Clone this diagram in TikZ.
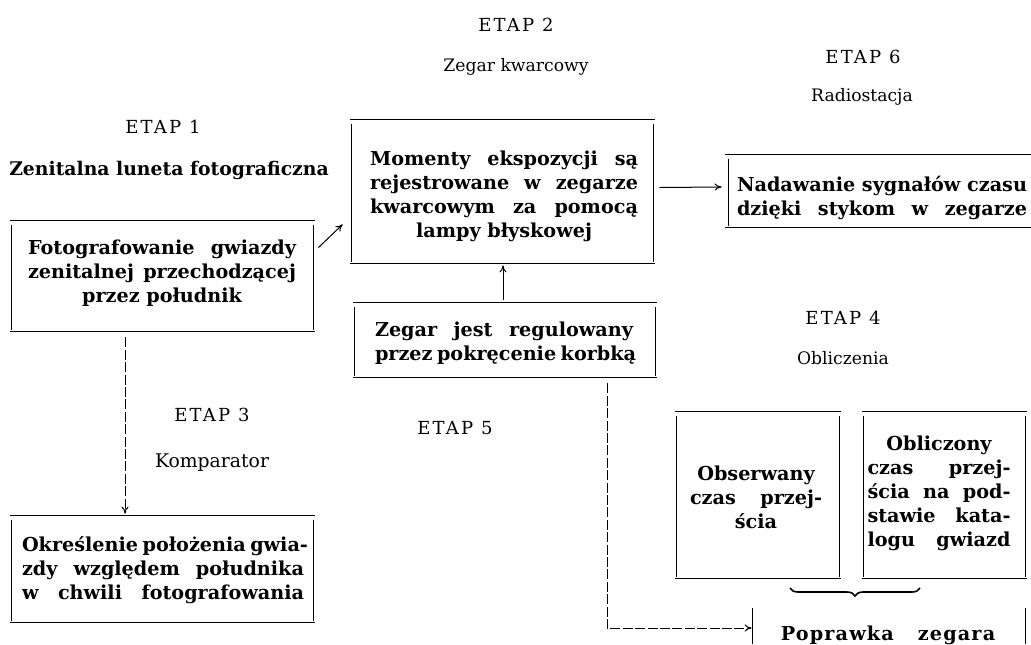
\documentclass[tikz,border=0pt]{standalone}
\usepackage{fontspec}
\setmainfont{DejaVu Serif}
\usetikzlibrary{arrows.meta,decorations.pathreplacing}
\newcommand{\jl}[2]{\makebox[#1][s]{#2}}
\newcommand{\drawframe}[1]{%
  \draw[hl] (#1.north west) -- (#1.north east);
  \draw[hl] (#1.south west) -- (#1.south east);
  \draw[vl] ([shift={(2,4)}]#1.north west) -- ([shift={(2,-1)}]#1.south west);
  \draw[vl] ([shift={(-2,4)}]#1.north east) -- ([shift={(-2,-1)}]#1.south east);}
\begin{document}
\begin{tikzpicture}[x=0.5pt,y=-0.5pt,
  fr/.style={inner sep=0pt, draw=none},
  bt/.style={inner sep=0pt, align=center, font=\fontsize{9.6}{12}\selectfont\bfseries},
  hl/.style={line width=0.8pt},
  vl/.style={line width=0.6pt},
  arr/.style={line width=0.5pt, -{To[length=3.5pt,width=3.5pt]}},
  dsh/.style={arr, dash pattern=on 5pt off 1.2pt},
  etap/.style={inner sep=0pt, font=\fontsize{9}{11}\selectfont\addfontfeatures{LetterSpace=12}},
  sub/.style={inner sep=0pt, font=\fontsize{8.6}{11}\selectfont},
  subb/.style={inner sep=0pt, font=\fontsize{9.4}{11}\selectfont\bfseries}]
\useasboundingbox (0,0) rectangle (1031,644);

% headings
\node[etap] (e2) at (516,25) {ETAP 2};
\node[sub] (s2) at (516,67) {Zegar kwarcowy};
\node[etap] (e6) at (863,57) {ETAP 6};
\node[sub] (s6) at (862,97) {Radiostacja};
\node[etap] (e1) at (163,127) {ETAP 1};
\node[subb] (s1) at (169,170) {Zenitalna luneta fotograficzna};
\node[etap] (e4) at (843,318) {ETAP 4};
\node[sub] (s4) at (843,358) {Obliczenia};
\node[etap] (e3) at (212,415) {ETAP 3};
\node[sub, font=\fontsize{9.4}{11}\selectfont] (s3) at (212,463) {Komparator};
\node[etap] (e5) at (455,428) {ETAP 5};

% frames
\node[fr, minimum width=152.5pt, minimum height=55pt] (b1) at (162.5,276) {};
\node[bt] (t1) at (162,273) {\jl{134pt}{Fotografowanie gwiazdy}\\ \jl{134pt}{zenitalnej przechodzącej}\\ przez południk};
\drawframe{b1}

\node[fr, minimum width=152.5pt, minimum height=71.5pt] (b2) at (502.5,191.5) {};
\node[bt] (t2) at (504,196) {\jl{134pt}{Momenty ekspozycji są}\\ \jl{134pt}{rejestrowane w zegarze}\\ \jl{134pt}{kwarcowym za pomocą}\\ lampy błyskowej};
\drawframe{b2}

\node[fr, minimum width=152pt, minimum height=37pt] (b3) at (505,340) {};
\node[bt] (t3) at (504,343) {\jl{129pt}{Zegar jest regulowany}\\ \jl{129pt}{przez pokręcenie korbką}};
\drawframe{b3}

\node[fr, minimum width=152.5pt, minimum height=53pt] (b4) at (162.5,569) {};
\node[bt] (t4) at (163,570) {\jl{141pt}{Określenie położenia gwia-}\\ \jl{141pt}{zdy względem południka}\\ \jl{141pt}{w chwili fotografowania}};
\drawframe{b4}

\node[fr, minimum width=83pt, minimum height=83pt] (b5) at (758,495) {};
\node[bt] (t5) at (756,497) {Obserwany\\ \jl{66pt}{czas przej-}\\ ścia};
\drawframe{b5}

\node[fr, minimum width=82.5pt, minimum height=83pt] (b8) at (944.5,495) {};
\node[bt] (t8) at (939,493) {Obliczony\\ \jl{71.5pt}{czas przej-}\\ \jl{71.5pt}{ścia na pod-}\\ \jl{71.5pt}{stawie kata-}\\ \jl{71.5pt}{logu gwiazd}};
\drawframe{b8}

\node[fr, minimum width=153pt, minimum height=36pt] (b6) at (878,191) {};
\node[bt] (t6) at (882,198) {\jl{145pt}{Nadawanie sygnałów czasu}\\ \jl{145pt}{dzięki stykom w zegarze}};
\draw[hl] (b6.north west) -- (b6.north east);
\draw[hl] (b6.south west) -- (b6.south east);
\draw[vl] ([shift={(4,4)}]b6.north west) -- ([shift={(4,-1)}]b6.south west);

\node[fr, minimum width=136pt, minimum height=36pt] (b7) at (889,644) {};
\node[bt, font=\fontsize{9.6}{12}\selectfont\bfseries\addfontfeatures{LetterSpace=6}] (t7) at (888,635) {Poprawka\hspace{12pt}zegara};
\draw[vl] (b7.north west) -- (b7.west);
\draw[vl] (b7.north east) -- (b7.east);

% brace
\coordinate (brl) at (790,588);
\coordinate (brr) at (920,588);
\draw[line width=0.8pt, decorate, decoration={brace, mirror, amplitude=4pt}] (brl) -- (brr);

% connectors
\draw[arr] ([shift={(3,27)}]b1.north east) -- ([shift={(-7,-39)}]b2.south west);
\draw[arr] ([shift={(-2,-3)}]b3.north) coordinate (u) -- ([yshift=-1pt]u |- b2.south);
\draw[arr] ([shift={(4,-4)}]b2.east) -- ([shift={(-3,-4)}]b6.west);
\draw[dsh] ([shift={(-37.5,6)}]b1.south) -- ([shift={(-37.5,-2)}]b4.north);
\draw[dsh] ([shift={(102,6)}]b3.south) |- ([shift={(-1,-16)}]b7.west);
\end{tikzpicture}
\end{document}
